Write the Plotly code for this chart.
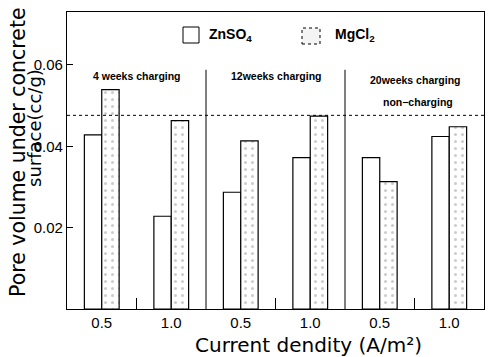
import plotly.graph_objects as go

# Data
categories = ["0.5", "1.0", "0.5", "1.0", "0.5", "1.0"]
znso4 = [0.0428, 0.0228, 0.0287, 0.0372, 0.0372, 0.0424]
mgcl2 = [0.0539, 0.0463, 0.0413, 0.0474, 0.0313, 0.0448]
groups = ["4 weeks charging", "12weeks charging", "20weeks charging"]
non_charging = 0.0476
ytick_vals = [0.02, 0.04, 0.06]
ytick_text = ["0.02", "0.04", "0.06"]

xpos = list(range(len(categories)))
FONT = "Liberation Sans, Arial, sans-serif"
WIDE = "DejaVu Sans, sans-serif"

fig = go.Figure()
fig.add_trace(go.Bar(
    x=xpos, y=znso4, name="ZnSO4",
    marker=dict(color="white", line=dict(color="black", width=1.2)),
))
fig.add_trace(go.Bar(
    x=xpos, y=mgcl2, name="MgCl2",
    marker=dict(color="white", line=dict(color="black", width=1.2),
                pattern=dict(shape=".", fgcolor="#9a9a9a", bgcolor="white",
                             size=7, solidity=0.15)),
))

# dividers between groups
for xd in [1.5, 3.5]:
    fig.add_shape(type="line", xref="x", yref="y", x0=xd, x1=xd, y0=0, y1=0.0588,
                  line=dict(color="black", width=1))
# non-charging reference line
fig.add_shape(type="line", xref="paper", yref="y", x0=0, x1=1,
              y0=non_charging, y1=non_charging,
              line=dict(color="black", width=1, dash="dot"))

# group labels
for i, g in enumerate(groups):
    fig.add_annotation(x=2 * i + 0.5, y=0.0572 if i < 2 else 0.0562, xref="x", yref="y",
                       text="<b>" + g + "</b>", showarrow=False,
                       xanchor="center", yanchor="middle",
                       font=dict(family=FONT, size=10.5, color="black"))
fig.add_annotation(x=4.55, y=0.0490, xref="x", yref="y", text="<b>non\u2212charging</b>",
                   showarrow=False, font=dict(family=FONT, size=10.5, color="black"),
                   xanchor="center", yanchor="bottom")

# legend (custom)
fig.add_shape(type="rect", xref="paper", yref="paper",
              x0=(183 - 67) / 417, x1=(199 - 67) / 417,
              y0=(309 - 43) / 297, y1=(309 - 27) / 297,
              line=dict(color="black", width=1), fillcolor="white")
fig.add_annotation(xref="paper", yref="paper", x=(207 - 67) / 417, y=(309 - 35) / 297,
                   xanchor="left", yanchor="middle", text="<b>ZnSO<sub>4</sub></b>",
                   showarrow=False, font=dict(family=FONT, size=14, color="black"))
fig.add_shape(type="rect", xref="paper", yref="paper",
              x0=(302 - 67) / 417, x1=(320 - 67) / 417,
              y0=(309 - 44) / 297, y1=(309 - 28) / 297,
              line=dict(color="black", width=1, dash="dot"), fillcolor="#f4f4f4")
fig.add_annotation(xref="paper", yref="paper", x=(333 - 67) / 417, y=(309 - 35) / 297,
                   xanchor="left", yanchor="middle", text="<b>MgCl<sub>2</sub></b>",
                   showarrow=False, font=dict(family=FONT, size=14, color="black"))

# axis titles
fig.add_annotation(xref="paper", yref="paper", x=(193 - 67) / 417, y=-0.075,
                   xanchor="left", yanchor="top",
                   text="Current dendity (A/m\u00b2)", showarrow=False,
                   font=dict(family=WIDE, size=20, color="black"))
fig.add_annotation(xref="paper", yref="paper", x=(18 - 67) / 417, y=(309 - 152) / 297,
                   xanchor="center", yanchor="middle",
                   text="Pore volume under concrete", textangle=-90, showarrow=False,
                   font=dict(family=WIDE, size=20.5, color="black"))
fig.add_annotation(xref="paper", yref="paper", x=(34 - 67) / 417, y=(309 - 128) / 297,
                   xanchor="center", yanchor="middle",
                   text="surface(cc/g)", textangle=-90, showarrow=False,
                   font=dict(family=WIDE, size=18, color="black"))

fig.update_layout(
    width=490, height=357,
    margin=dict(l=67, r=6, t=12, b=48),
    paper_bgcolor="white", plot_bgcolor="white",
    barmode="group", bargap=0.5, bargroupgap=0,
    showlegend=False,
    font=dict(family=FONT, size=14, color="black"),
)
fig.update_xaxes(
    range=[-0.5, 5.5], tickvals=xpos, ticktext=categories, ticks="",
    showline=True, linecolor="black", linewidth=1.2, mirror=True,
    showgrid=False, zeroline=False,
    tickfont=dict(family=FONT, size=15, color="black"),
    minor=dict(tickvals=[0.5, 2.5, 4.5], ticks="inside", ticklen=11,
               tickcolor="black", tickwidth=1, showgrid=False),
)
fig.update_yaxes(
    range=[0, 0.073], tickvals=ytick_vals, ticktext=ytick_text,
    ticks="inside", ticklen=6, tickcolor="black",
    showline=True, linecolor="black", linewidth=1.2, mirror=True,
    showgrid=False, zeroline=False,
    tickfont=dict(family=FONT, size=15, color="black"),
)

fig.write_html("out.html")
